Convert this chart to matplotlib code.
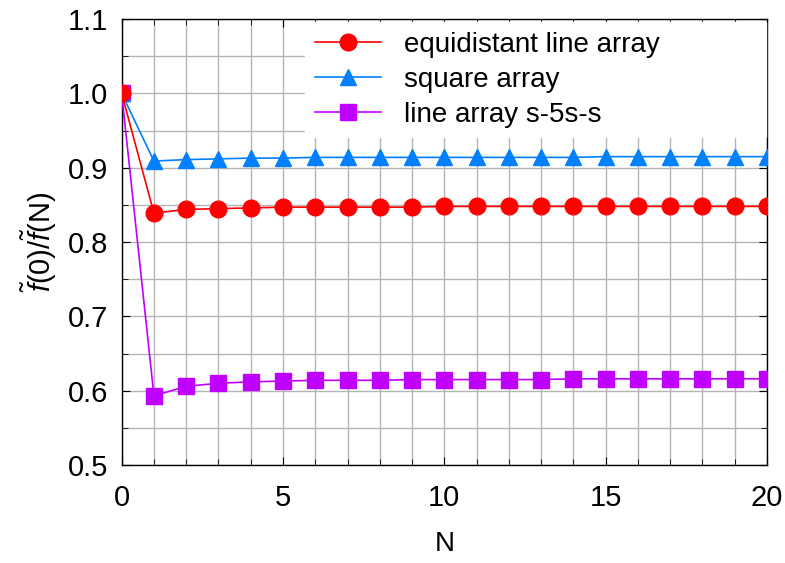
import matplotlib
matplotlib.use('Agg')
import matplotlib.pyplot as plt
from matplotlib.ticker import MultipleLocator

plt.rcParams['font.family'] = ['Liberation Sans', 'DejaVu Sans']
plt.rcParams['mathtext.fontset'] = 'custom'
plt.rcParams['mathtext.it'] = 'Liberation Sans:italic'
plt.rcParams['mathtext.rm'] = 'Liberation Sans'

N = list(range(21))
line_equidistant = [1.0, 0.839, 0.844, 0.845, 0.846, 0.847, 0.847, 0.847, 0.847, 0.847, 0.848,
                    0.848, 0.848, 0.848, 0.848, 0.848, 0.848, 0.848, 0.848, 0.848, 0.848]
square = [1.0, 0.909, 0.911, 0.912, 0.913, 0.913, 0.914, 0.914, 0.914, 0.914, 0.914,
          0.914, 0.914, 0.914, 0.914, 0.915, 0.915, 0.915, 0.915, 0.915, 0.915]
line_s5s = [1.0, 0.593, 0.606, 0.610, 0.612, 0.613, 0.614, 0.614, 0.614, 0.615, 0.615,
            0.615, 0.615, 0.615, 0.616, 0.616, 0.616, 0.616, 0.616, 0.616, 0.616]

fig = plt.figure(figsize=(7.85, 5.63), dpi=100)
ax = fig.add_axes([0.155, 0.174, 0.822, 0.792])

ax.plot(N, line_equidistant, color='#ff0000', marker='o', ms=12, lw=1.2,
        label='equidistant line array', zorder=5)
ax.plot(N, square, color='#0080ff', marker='^', ms=12, lw=1.2,
        label='square array', zorder=4)
ax.plot(N, line_s5s, color='#c000ff', marker='s', ms=11, lw=1.2,
        label='line array s-5s-s', zorder=3)

ax.set_xlim(0, 20)
ax.set_ylim(0.5, 1.1)
ax.xaxis.set_major_locator(MultipleLocator(5))
ax.xaxis.set_minor_locator(MultipleLocator(1))
ax.yaxis.set_minor_locator(MultipleLocator(0.05))
ax.set_yticks([0.5, 0.6, 0.7, 0.8, 0.9, 1.0, 1.1])
ax.set_yticklabels(['0.5', '0.6', '0.7', '0.8', '0.9', '1.0', '1.1'])
ax.grid(which='both', color='#b4b4b4', lw=1.0)
ax.set_axisbelow(True)
ax.tick_params(which='both', direction='in', top=True, right=True, labelsize=21)
ax.tick_params(axis='y', pad=10)
ax.tick_params(axis='x', pad=14)
ax.tick_params(which='major', length=6)
ax.tick_params(which='minor', length=4)
for s in ax.spines.values():
    s.set_linewidth(1.0)

ax.set_xlabel('N', fontsize=20, labelpad=13)
ax.set_ylabel(r'$\tilde{f}$(0)/$\tilde{f}$(N)', fontsize=21, labelpad=6)

leg = ax.legend(loc='upper left', bbox_to_anchor=(0.284, 0.755, 0.714, 0.238),
                mode='expand', fontsize=20, frameon=True, fancybox=False,
                framealpha=1, edgecolor='white', handlelength=2.4,
                borderaxespad=0.0, labelspacing=0.32, handletextpad=0.8,
                borderpad=0.35)
leg.set_zorder(10)

fig.savefig('out.png', dpi=100)
